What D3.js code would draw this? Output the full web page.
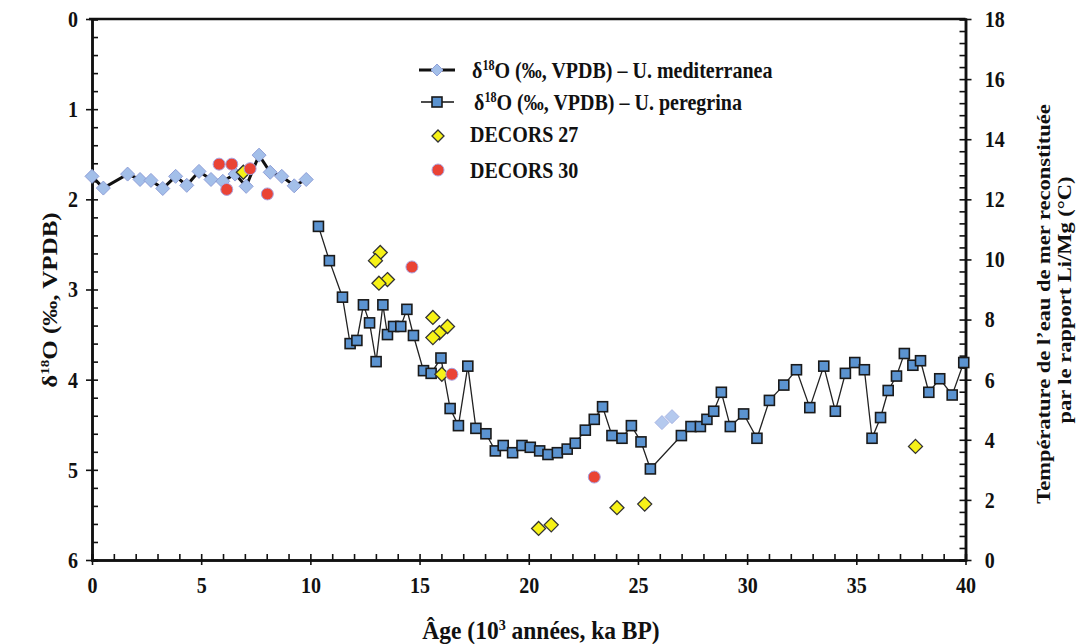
<!DOCTYPE html>
<html><head><meta charset="utf-8">
<script src="https://cdn.jsdelivr.net/npm/d3@7"></script>
<style>
body{margin:0;background:#fff;}
svg text{font-family:"Liberation Serif","Times New Roman",serif;font-weight:bold;fill:#111;}
</style></head>
<body><svg id="c" width="1083" height="644"></svg>
<script>
// U. mediterranea δ18O (‰ VPDB)
const medAge  = [0.0,0.52,1.63,2.2,2.7,3.24,3.83,4.34,4.9,5.45,5.99,6.55,7.06,7.65,8.16,8.69,9.26,9.81];
const medD18O = [1.745,1.875,1.72,1.78,1.79,1.88,1.745,1.845,1.69,1.78,1.80,1.72,1.856,1.51,1.70,1.745,1.85,1.78];
const medLateAge  = [26.10,26.56];
const medLateD18O = [4.476,4.41];
// U. peregrina δ18O (‰ VPDB)
const perAge  = [10.37,10.87,11.47,11.82,12.13,12.43,12.71,13.01,13.32,13.53,13.81,14.14,14.42,14.72,15.18,15.53,15.98,16.40,16.78,17.21,17.58,18.04,18.47,18.83,19.26,19.69,20.07,20.50,20.88,21.31,21.76,22.13,22.59,23.00,23.38,23.81,24.27,24.70,25.14,25.57,26.99,27.43,27.86,28.16,28.47,28.82,29.23,29.84,30.45,31.02,31.68,32.26,32.87,33.51,34.04,34.50,34.93,35.37,35.72,36.11,36.46,36.84,37.20,37.59,37.94,38.32,38.82,39.39,39.92];
const perD18O = [2.30,2.68,3.085,3.60,3.565,3.17,3.37,3.80,3.17,3.50,3.41,3.41,3.22,3.51,3.90,3.93,3.76,4.32,4.51,3.85,4.54,4.60,4.79,4.73,4.81,4.73,4.75,4.79,4.83,4.81,4.77,4.705,4.56,4.44,4.30,4.62,4.65,4.51,4.69,4.99,4.62,4.52,4.52,4.44,4.35,4.14,4.52,4.38,4.65,4.23,4.06,3.89,4.31,3.85,4.35,3.93,3.81,3.89,4.65,4.42,4.12,3.96,3.71,3.84,3.79,4.14,3.99,4.17,3.81];
// DECORS 27 Li/Mg temperature (°C)
const d27Age  = [6.93,13.20,12.98,13.53,13.14,15.61,16.28,15.91,15.61,16.02,20.45,21.03,24.04,25.31,37.71];
const d27Temp = [12.9,10.23,9.96,9.33,9.21,8.07,7.77,7.56,7.40,6.18,1.05,1.17,1.74,1.86,3.78];
// DECORS 30 Li/Mg temperature (°C)
const d30Age  = [5.82,6.40,6.17,7.24,8.03,14.65,16.48,23.00];
const d30Temp = [13.17,13.17,12.33,13.02,12.18,9.75,6.18,2.76];
// axis ticks
const xTicks = [0,5,10,15,20,25,30,35,40];
const yTicks = [0,1,2,3,4,5,6];
const yRTicks = [0,2,4,6,8,10,12,14,16,18];

const SX = 0.87; // horizontal condensation of the lettering
const svg = d3.select("#c");
const L=92, R=965.5, T=19, B=560;
const x = d3.scaleLinear().domain([0,40]).range([L,R]);
const y = d3.scaleLinear().domain([0,6]).range([T,B]);
const yR = d3.scaleLinear().domain([0,18]).range([B,T]);

function styleAxis(g){
  g.attr("font-family",null).attr("font-size",null);
  g.select(".domain").attr("stroke","#111").attr("stroke-width",2.5);
  g.selectAll(".tick line").attr("stroke","#111").attr("stroke-width",1.6);
  g.selectAll(".tick text").style("font-size","23px").attr("fill","#111")
    .attr("transform",`scale(${SX},1)`);
}
// top frame
svg.append("line").attr("x1",L-3).attr("x2",R).attr("y1",T).attr("y2",T).attr("stroke","#111").attr("stroke-width",2.5);

// left axis
let g = svg.append("g").attr("transform",`translate(${L},0)`).call(d3.axisRight(y).tickValues(d3.range(0,6.001,0.2)).tickSize(6).tickFormat(""));
styleAxis(g);
g = svg.append("g").attr("transform",`translate(${L},0)`).call(d3.axisLeft(y).tickValues(yTicks).tickSize(6).tickSizeOuter(0).tickPadding(10).tickFormat(d3.format("d")));
styleAxis(g);
// bottom axis
g = svg.append("g").attr("transform",`translate(0,${B})`).call(d3.axisTop(x).tickValues(d3.range(0,40.001,1)).tickSize(6).tickFormat(""));
styleAxis(g);
g = svg.append("g").attr("transform",`translate(0,${B})`).call(d3.axisBottom(x).tickValues(xTicks).tickSize(5).tickSizeOuter(0).tickPadding(12).tickFormat(d3.format("d")));
styleAxis(g);
// right axis
g = svg.append("g").attr("transform",`translate(${R},0)`).call(d3.axisLeft(yR).tickValues(d3.range(0,18.001,0.4)).tickSize(6).tickFormat(""));
styleAxis(g);
g = svg.append("g").attr("transform",`translate(${R},0)`).call(d3.axisRight(yR).tickValues(yRTicks).tickSize(6).tickSizeOuter(0).tickPadding(16).tickFormat(d3.format("d")));
styleAxis(g);

// helper for condensed horizontal text
function hText(px, py, size, anchor, sx){
  return svg.append("g").attr("transform",`translate(${px},${py}) scale(${sx||SX},1)`)
    .append("text").attr("text-anchor",anchor||"start").style("font-size",size+"px");
}
// axis titles
hText(541,639,25,"middle",0.94)
  .html('Âge (10<tspan dy="-9" style="font-size:15px">3</tspan><tspan dy="9"> années, ka BP)</tspan>');
svg.append("g").attr("transform",`translate(57,300) scale(${SX},1) rotate(-90)`)
  .append("text").attr("text-anchor","middle").style("font-size","25px")
  .html('δ<tspan dy="-9" style="font-size:15px">18</tspan><tspan dy="9">O (‰, VPDB)</tspan>');
svg.append("g").attr("transform",`translate(1050,304) scale(${SX},1) rotate(-90)`)
  .append("text").attr("text-anchor","middle").style("font-size","22.5px")
  .text("Température de l’eau de mer reconstituée");
svg.append("g").attr("transform",`translate(1071,300) scale(${SX},1) rotate(-90)`)
  .append("text").attr("text-anchor","middle").style("font-size","22.5px")
  .text("par le rapport Li/Mg (°C)");

// series
const medData = medAge.map((a,i)=>({a, v:medD18O[i]}));
const medLate = medLateAge.map((a,i)=>({a, v:medLateD18O[i]}));
const perData = perAge.map((a,i)=>({a, v:perD18O[i]}));
const d27 = d27Age.map((a,i)=>({a, v:d27Temp[i]}));
const d30 = d30Age.map((a,i)=>({a, v:d30Temp[i]}));

const line = d3.line().x(d=>x(d.a)).y(d=>y(d.v));
svg.append("path").datum(perData).attr("d",line).attr("fill","none").attr("stroke","#222").attr("stroke-width",1.3);
svg.append("path").datum(medData).attr("d",line).attr("fill","none").attr("stroke","#111").attr("stroke-width",3);

const diamond = s => `M0,${-s}L${s},0L0,${s}L${-s},0Z`;
svg.append("g").selectAll("path").data(medData).join("path")
  .attr("transform",d=>`translate(${x(d.a)},${y(d.v)})`).attr("d",diamond(7))
  .attr("fill","#a3bfe9").attr("stroke","#8f9fd8").attr("stroke-width",1);
svg.append("g").selectAll("path").data(medLate).join("path")
  .attr("transform",d=>`translate(${x(d.a)},${y(d.v)})`).attr("d",diamond(7))
  .attr("fill","#b4c9ee").attr("stroke","#a6b3e3").attr("stroke-width",1);
svg.append("g").selectAll("rect").data(perData).join("rect")
  .attr("x",d=>x(d.a)-5).attr("y",d=>y(d.v)-5).attr("width",10).attr("height",10)
  .attr("fill","#5b93d0").attr("stroke","#1a1a1a").attr("stroke-width",1.6);
svg.append("g").selectAll("path").data(d27).join("path")
  .attr("transform",d=>`translate(${x(d.a)},${yR(d.v)})`).attr("d",diamond(7))
  .attr("fill","#f7f217").attr("stroke","#333").attr("stroke-width",1.3);
svg.append("g").selectAll("circle").data(d30).join("circle")
  .attr("cx",d=>x(d.a)).attr("cy",d=>yR(d.v)).attr("r",6)
  .attr("fill","#ea4335").attr("stroke","#a9a3e0").attr("stroke-width",1);

// legend
const lg = svg.append("g");
lg.append("line").attr("x1",419).attr("x2",455).attr("y1",70).attr("y2",70).attr("stroke","#111").attr("stroke-width",3);
lg.append("path").attr("transform","translate(437,70)").attr("d",diamond(6)).attr("fill","#a3bfe9").attr("stroke","#8f9fd8");
hText(472,78,23).html('δ<tspan dy="-8" style="font-size:14px">18</tspan><tspan dy="8">O (‰, VPDB) – U. mediterranea</tspan>');
lg.append("line").attr("x1",421).attr("x2",454).attr("y1",102).attr("y2",102).attr("stroke","#111").attr("stroke-width",1.5);
lg.append("rect").attr("x",432).attr("y",97).attr("width",10).attr("height",10).attr("fill","#5b93d0").attr("stroke","#1a1a1a").attr("stroke-width",1.6);
hText(474,110,23).html('δ<tspan dy="-8" style="font-size:14px">18</tspan><tspan dy="8">O (‰, VPDB) – U. peregrina</tspan>');
lg.append("path").attr("transform","translate(438,136)").attr("d",diamond(6)).attr("fill","#f7f217").attr("stroke","#333").attr("stroke-width",1.3);
hText(470,142,23).text("DECORS 27");
lg.append("circle").attr("cx",438).attr("cy",170).attr("r",6).attr("fill","#ea4335").attr("stroke","#a9a3e0");
hText(470,178,23).text("DECORS 30");
</script></body></html>
